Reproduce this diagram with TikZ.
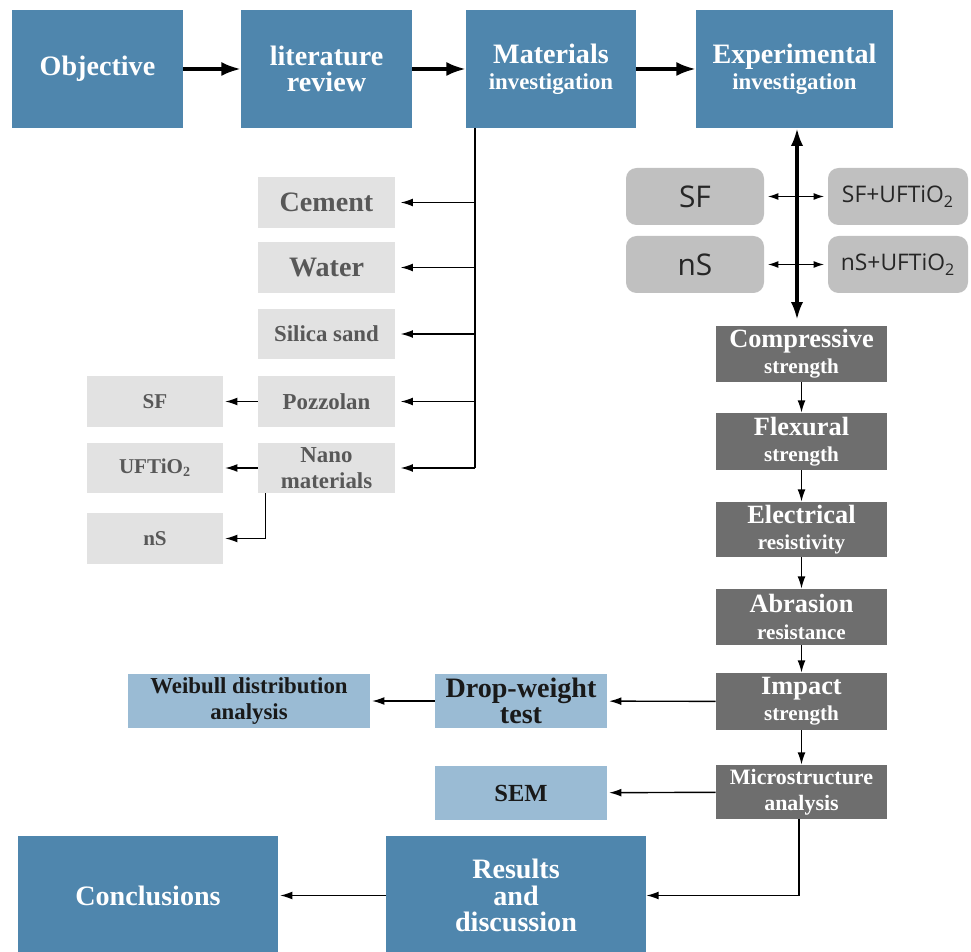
\documentclass[tikz,border=0pt]{standalone}
\usepackage{fontspec}
\setmainfont{Liberation Serif}
\newfontfamily\mixfont{Open Sans}
\usetikzlibrary{arrows.meta,positioning,calc}

\definecolor{stepblue}{RGB}{79,134,173}
\definecolor{matgray}{RGB}{226,226,226}
\definecolor{mattext}{RGB}{88,88,88}
\definecolor{mixgray}{RGB}{192,192,192}
\definecolor{testgray}{RGB}{110,110,110}
\definecolor{outblue}{RGB}{154,187,212}
\newcommand{\fsz}[2]{\fontsize{#1}{#2}\selectfont}

\begin{document}
\begin{tikzpicture}[x=0.02cm, y=-0.02cm,
    wh/.style 2 args={minimum width=#1*0.02cm, minimum height=#2*0.02cm},
    stepbox/.style={fill=stepblue, text=white, font=\bfseries\fsz{16}{15}, inner sep=0pt, align=center},
    matbox/.style={fill=matgray, text=mattext, font=\bfseries\fsz{13}{15}, inner sep=0pt, align=center},
    mixbox/.style={fill=mixgray, rounded corners=6pt, text=black!85, font=\mixfont\fsz{13}{15}, inner sep=0pt, align=center},
    testbox/.style={fill=testgray, text=white, font=\bfseries\fsz{15}{15}, inner sep=0pt, align=center},
    outbox/.style={fill=outblue, text=black!90, font=\bfseries\fsz{16}{15}, inner sep=0pt, align=center},
    flow/.style={-{Latex[length=11pt,width=8pt]}, line width=1.8pt},
    link/.style={-{Latex[length=7pt,width=4.5pt]}, line width=0.8pt},
    twoway/.style={{Latex[length=6pt,width=4pt]}-{Latex[length=6pt,width=4pt]}, line width=0.8pt},
    bigtwoway/.style={{Latex[length=10pt,width=7pt]}-{Latex[length=10pt,width=7pt]}, line width=1.8pt}]
    \useasboundingbox (0,0) rectangle (971,952);

    % Main steps along the top
    \node[stepbox, wh={171}{118}] (objective) at (97.5,69) {Objective};
    \node[stepbox, wh={171}{118}] (literature) at (326.5,69) {literature\\review};
    \node[stepbox, wh={170}{118}] (materials) at (551,69) {Materials\\\fsz{13}{15}investigation};
    \node[stepbox, wh={197}{118}] (experimental) at (794.5,69) {Experimental\\\fsz{13}{15}investigation};
    \draw[flow] (objective) -- (literature);
    \draw[flow] (literature) -- (materials);
    \draw[flow] (materials) -- (experimental);

    % Materials used
    \node[matbox, wh={137}{51}, font=\bfseries\fsz{16}{18}] (cement) at (326.5,202.5) {Cement};
    \node[matbox, wh={137}{51}, font=\bfseries\fsz{16}{18}] (water) at (326.5,267.5) {Water};
    \node[matbox, wh={137}{50}] (silica) at (326.5,334) {Silica sand};
    \node[matbox, wh={137}{51}] (pozzolan) at (326.5,401.5) {Pozzolan};
    \node[matbox, wh={137}{50}] (nano) at (326.5,468) {Nano\\materials};
    \node[matbox, wh={136}{51}, font=\bfseries\fsz{12}{14}] (sfleft) at (155,401.5) {SF};
    \node[matbox, wh={136}{50}, font=\bfseries\fsz{12}{14}] (ufti) at (155,468) {UFTiO\textsubscript{2}};
    \node[matbox, wh={136}{51}, font=\bfseries\fsz{12}{14}] (nsleft) at (155,538.5) {nS};

    % Branches from the materials step
    \coordinate (trunk) at (475,128);
    \draw[line width=0.8pt] (trunk) -- (trunk |- nano);
    \foreach \m in {cement,water,silica,pozzolan,nano}
        \draw[link, shorten >=3pt] (trunk |- \m) -- (\m.east);
    \draw[link, shorten >=1pt] (pozzolan) -- (sfleft);
    \draw[link, shorten >=1pt] (nano) -- (ufti);
    \draw[link, shorten >=1pt] ([xshift=0.16cm]nano.south west) |- (nsleft);

    % Mixes
    \node[mixbox, wh={138}{57}, font=\mixfont\fsz{17}{19}] (sfmix) at (695,196.5) {SF};
    \node[mixbox, wh={138}{57}, font=\mixfont\fsz{17}{19}] (nsmix) at (695,264.5) {nS};
    \node[mixbox, wh={140}{57}] (sfti) at (898,196.5) {SF+UFTiO\textsubscript{2}};
    \node[mixbox, wh={140}{57}] (nsti) at (898,264.5) {nS+UFTiO\textsubscript{2}};
    \draw[twoway, shorten <=2pt, shorten >=2pt] (sfmix) -- (sfti);
    \draw[twoway, shorten <=2pt, shorten >=2pt] (nsmix) -- (nsti);

    % Tests
    \node[testbox, wh={171}{56}] (compressive) at (801.5,354) {Compressive\\\fsz{12}{15}strength};
    \node[testbox, wh={171}{57}] (flexural) at (801.5,441.5) {Flexural\\\fsz{12}{15}strength};
    \node[testbox, wh={171}{55}] (electrical) at (801.5,529.5) {Electrical\\\fsz{12}{15}resistivity};
    \node[testbox, wh={171}{56}] (abrasion) at (801.5,617) {Abrasion\\\fsz{12}{15}resistance};
    \node[testbox, wh={171}{57}] (impact) at (801.5,701.5) {Impact\\\fsz{12}{15}strength};
    \node[testbox, wh={171}{54}, font=\bfseries\fsz{12.5}{15}] (micro) at (801.5,792) {Microstructure\\analysis};
    \draw[bigtwoway] ([xshift=0.05cm]experimental.south) -- ([xshift=0.05cm, yshift=0.12cm]experimental.south |- compressive.north);
    \draw[link] (compressive) -- (flexural);
    \draw[link] (flexural) -- (electrical);
    \draw[link] (electrical) -- (abrasion);
    \draw[link] (abrasion) -- (impact);
    \draw[link] (impact) -- (micro);

    % Further analysis
    \node[outbox, wh={172}{54}] (drop) at (521,701) {Drop-weight\\test};
    \node[outbox, wh={242}{54}, font=\bfseries\fsz{13}{15}] (weibull) at (249,701) {Weibull distribution\\analysis};
    \node[outbox, wh={172}{54}, font=\bfseries\fsz{14}{16}] (sem) at (521,793) {SEM};
    \draw[link, shorten >=1pt] (impact) -- (drop);
    \draw[link, shorten >=1pt] (drop) -- (weibull);
    \draw[link, shorten >=1pt] (micro) -- (sem);

    % Results and conclusions
    \node[stepbox, wh={260}{119}] (results) at (516,895.5) {Results\\and\\discussion};
    \node[stepbox, wh={260}{119}] (conclusions) at (148,895.5) {Conclusions};
    \draw[link] ([xshift=-0.05cm]micro.south) |- (results);
    \draw[link, shorten >=1pt] (results) -- (conclusions);
\end{tikzpicture}
\end{document}
